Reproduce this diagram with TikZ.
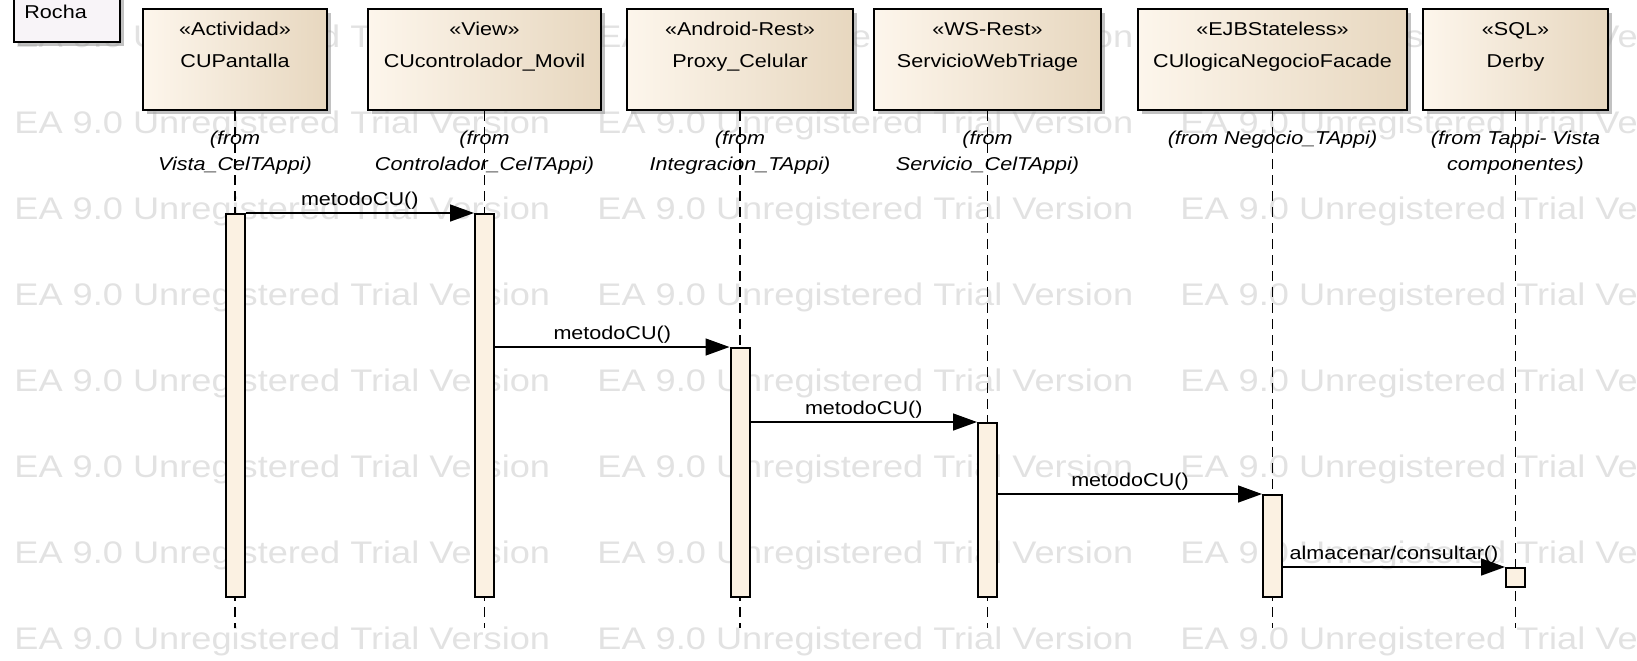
\documentclass[tikz,border=0pt]{standalone}
\usepackage{fontspec}
\setmainfont{Liberation Sans}[FakeStretch=1.16]
\newfontfamily\wmfont{Liberation Sans}[FakeStretch=1.16]
\usepackage{tikz}
\usetikzlibrary{arrows.meta,positioning,shadows}
\definecolor{boxleft}{RGB}{253,246,236}
\definecolor{boxright}{RGB}{231,215,191}
\definecolor{actfill}{RGB}{251,241,226}
\definecolor{notefill}{RGB}{248,244,248}
\definecolor{wmgray}{RGB}{226,226,226}

\begin{document}
\begin{tikzpicture}[x=0.5pt,y=-0.5pt,>={Triangle[length=12pt,width=8.5pt]},
  every node/.style={font=\fontsize{9.3}{16}\selectfont},
  part/.style={draw,line width=1pt,left color=boxleft,right color=boxright,minimum height=50.5pt,inner sep=0pt,
    drop shadow={shadow xshift=2pt,shadow yshift=-2pt,fill=black!40,opacity=.6}},
  ptext/.style={align=center,inner sep=0pt},
  from/.style={align=center,inner sep=0pt,font=\fontsize{9.3}{13}\selectfont\itshape},
  life/.style={line width=.7pt,dash pattern=on 5pt off 3pt},
  act/.style={draw,line width=1pt,fill=actfill,minimum width=9.5pt,inner sep=0pt,anchor=north},
  msg/.style={->,line width=.75pt},
  lbl/.style={anchor=base,yshift=4pt,inner sep=0pt},
  wm/.style={anchor=base west,inner sep=0pt,text=wmgray,font=\wmfont\fontsize{15.6}{18}\selectfont}]
\useasboundingbox (0,0) rectangle (1637,660);
\clip (0,0) rectangle (1637,660);

% watermark
\foreach \r in {0,...,7}
  \foreach \c in {0,1,2}
    \node[wm] (wm\r\c) at ({14+583*\c},{47+86*\r}) {EA 9.0 Unregistered Trial Version};

% note
\node[draw,line width=1pt,fill=notefill,minimum width=53pt,minimum height=26pt,
  drop shadow={shadow xshift=2pt,shadow yshift=-2pt,fill=black!40,opacity=.6}] (R) at (67,16) {};
\node[inner sep=0pt,below right=8pt and 5.5pt of R.north west] (Rt) {Rocha};

% lifeline heads
\node[part,minimum width=92pt] (P) at (235,59.5) {};
\node[part,minimum width=116.5pt] (C) at (484.5,59.5) {};
\node[part,minimum width=113pt] (X) at (740,59.5) {};
\node[part,minimum width=113.5pt] (W) at (987.5,59.5) {};
\node[part,minimum width=134.5pt] (F) at (1272.5,59.5) {};
\node[part,minimum width=92.5pt] (D) at (1515.5,59.5) {};
\node[ptext,below=7pt of P.north] (Pt) {«Actividad»\\CUPantalla};
\node[ptext,below=7pt of C.north] (Ct) {«View»\\CUcontrolador\_Movil};
\node[ptext,below=7pt of X.north] (Xt) {«Android-Rest»\\Proxy\_Celular};
\node[ptext,below=7pt of W.north] (Wt) {«WS-Rest»\\ServicioWebTriage};
\node[ptext,below=7pt of F.north] (Ft) {«EJBStateless»\\CUlogicaNegocioFacade};
\node[ptext,below=7pt of D.north] (Dt) {«SQL»\\Derby};

% packages
\node[from,below=10pt of P.south] (Pf) {(from\\Vista\_CelTAppi)};
\node[from,below=10pt of C.south] (Cf) {(from\\Controlador\_CelTAppi)};
\node[from,below=10pt of X.south] (Xf) {(from\\Integracion\_TAppi)};
\node[from,below=10pt of W.south] (Wf) {(from\\Servicio\_CelTAppi)};
\node[from,below=10pt of F.south] (Ff) {(from Negocio\_TAppi)};
\node[from,below=10pt of D.south] (Df) {(from Tappi- Vista\\componentes)};

% lifelines
\coordinate (bot) at (0,628);
\draw[life] (P.south) -- (P.south |- bot);
\draw[life] (C.south) -- (C.south |- bot);
\draw[life] (X.south) -- (X.south |- bot);
\draw[life] (W.south) -- (W.south |- bot);
\draw[life] (F.south) -- (F.south |- bot);
\draw[life] (D.south) -- (D.south |- bot);

% activations
\coordinate (m1) at (0,213);
\coordinate (m2) at (0,347);
\coordinate (m3) at (0,422);
\coordinate (m4) at (0,494);
\coordinate (m5) at (0,567);
\node[act,minimum height=191.5pt] (aP) at (P.south |- m1) {};
\node[act,minimum height=191.5pt] (aC) at (C.south |- m1) {};
\node[act,minimum height=124.5pt] (aX) at (X.south |- m2) {};
\node[act,minimum height=87pt] (aW) at (W.south |- m3) {};
\node[act,minimum height=51pt] (aF) at (F.south |- m4) {};
\node[act,minimum height=9.5pt] (aD) at (D.south |- m5) {};

% messages
\draw[msg] (aP.north east) -- node[lbl] (l1) {metodoCU()} (aC.north west);
\draw[msg] (aC.east |- aX.north) -- node[lbl] (l2) {metodoCU()} (aX.north west);
\draw[msg] (aX.east |- aW.north) -- node[lbl] (l3) {metodoCU()} (aW.north west);
\draw[msg] (aW.east |- aF.north) -- node[lbl] (l4) {metodoCU()} (aF.north west);
\draw[msg] (aF.east |- aD.north) -- node[lbl] (l5) {almacenar/consultar()} (aD.north west);
\end{tikzpicture}
\end{document}
